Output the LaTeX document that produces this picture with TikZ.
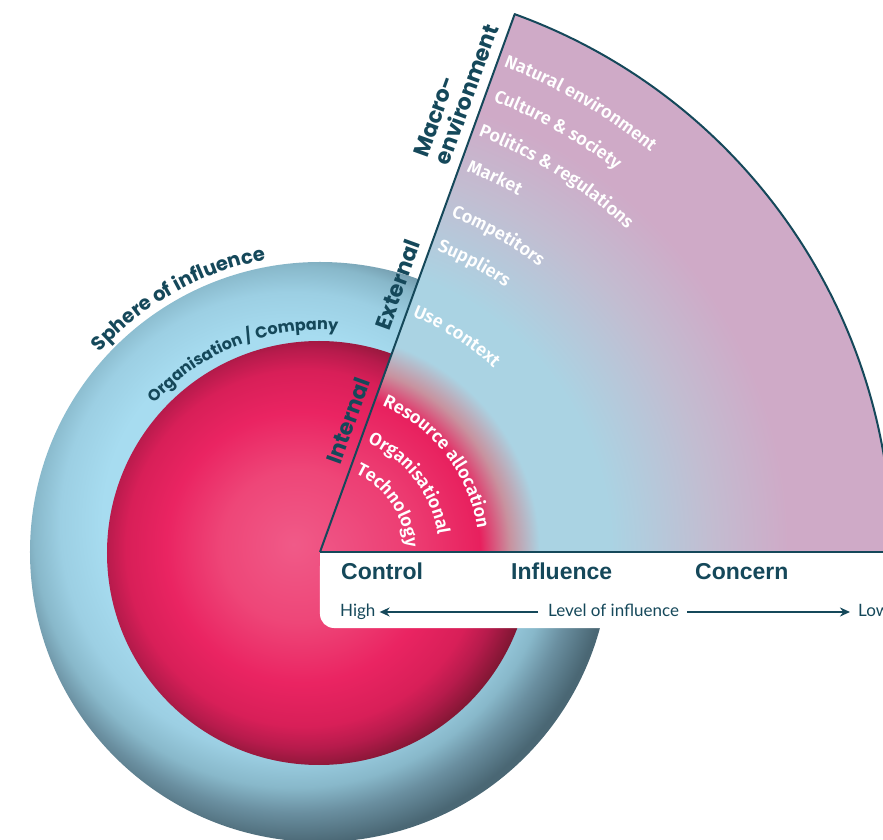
\documentclass[tikz,border=0pt]{standalone}
\usepackage{fontspec}
\setmainfont{Lato}
\newfontfamily\headfont{Poppins}
\newfontfamily\labfont{Fira Sans SemiBold}
\newfontfamily\bandfont{Liberation Sans}
\usetikzlibrary{decorations.text,arrows.meta,calc}

% palette
\definecolor{inkteal}{HTML}{15485A}
\definecolor{blA}{HTML}{A7DCF0}
\definecolor{blB}{HTML}{9CCFE3}
\definecolor{blC}{HTML}{88B8CA}
\definecolor{blD}{HTML}{6A8FA0}
\definecolor{blE}{HTML}{4A6774}
\definecolor{rdA}{HTML}{F05A88}
\definecolor{rdB}{HTML}{EE4678}
\definecolor{rdC}{HTML}{EA2462}
\definecolor{rdD}{HTML}{D81F58}
\definecolor{rdE}{HTML}{B71B4C}
\definecolor{rdF}{HTML}{7E1632}
\definecolor{wA}{HTML}{EF5686}
\definecolor{wB}{HTML}{EC3A70}
\definecolor{wC}{HTML}{E8205E}
\definecolor{wD}{HTML}{C8929F}
\definecolor{wE}{HTML}{AAD3E3}
\definecolor{wF}{HTML}{C2BDD1}
\definecolor{wG}{HTML}{CFAAC7}

% sphere and field shadings (25bp = edge of the shaded path's box)
\pgfdeclareradialshading{bluesphere}{\pgfpoint{-4bp}{4bp}}{%
  color(0bp)=(blA); color(16bp)=(blA); color(20bp)=(blB); color(22.5bp)=(blC);
  color(24.5bp)=(blD); color(27bp)=(blE); color(50bp)=(blE)}
\pgfdeclareradialshading{redsphere}{\pgfpoint{-3bp}{1bp}}{%
  color(0bp)=(rdA); color(9bp)=(rdB); color(16bp)=(rdC); color(21bp)=(rdD);
  color(23.5bp)=(rdE); color(26.5bp)=(rdF); color(50bp)=(rdF)}
\pgfdeclareradialshading{fieldshade}{\pgfpoint{0bp}{0bp}}{%
  color(0bp)=(wA); color(4.4bp)=(wB); color(7bp)=(wC); color(8.3bp)=(wD);
  color(9.6bp)=(wE); color(12.7bp)=(wE); color(17bp)=(wF); color(20.5bp)=(wG);
  color(50bp)=(wG)}

\newcommand\wlabfont{\labfont\fontsize{18}{20}\selectfont}
\newcommand\spherefont{\headfont\bfseries\fontsize{19.6}{21}\selectfont}
\newcommand\orgfont{\headfont\bfseries\fontsize{16}{18}\selectfont}

\begin{document}
\begin{tikzpicture}[x=1pt,y=1pt,
  edgeline/.style={draw=inkteal, line width=2pt, line join=round},
  sidelabel/.style={font=\headfont\bfseries\fontsize{22}{24}\selectfont, text=inkteal,
    rotate=70.1, anchor=base west, inner sep=0pt},
  bandhead/.style={font=\bandfont\bfseries\fontsize{23}{25}\selectfont, text=inkteal,
    anchor=base west, inner sep=0pt},
  scalelabel/.style={font=\fontsize{17}{19}\selectfont, text=inkteal, anchor=base west,
    inner sep=0pt, text height=8pt, text depth=0pt},
  scalearrow/.style={draw=inkteal, line width=1.7pt, -{Stealth[length=10pt,width=9pt]}},
  arclabel/.style={decorate, decoration={text along path, text align=left,
    text color=white, text={|\wlabfont|#1}}},
]
\useasboundingbox (-320,-288) rectangle (563,552);
\clip (-320,-288) rectangle (563,552);

% the two spheres
\shade[shading=bluesphere] (0,0) circle[radius=290];
\shade[shading=redsphere] (-1,-1) circle[radius=212];

% quarter field
\begin{scope}
  \clip (0,0) -- (70.1:572) arc[start angle=70.1, end angle=0, radius=572] -- cycle;
  \shade[shading=fieldshade] (-572,-572) rectangle (572,572);
\end{scope}
\draw[edgeline] (0,0) -- (70.1:572) arc[start angle=70.1, end angle=0, radius=572];

% scale band
\fill[white, rounded corners=14] (0,-76) rectangle (600,0);
\fill[white] (0,-30) rectangle (600,0);
\draw[inkteal, line width=2.6pt] (0,0) -- (600,0);

% labels round the spheres
\path[decorate, decoration={text along path, text align=left, text color=inkteal,
  text={|\spherefont|Sphere of influence}}]
  (137.8:297) arc[start angle=137.8, end angle=60, radius=297];
\path[decorate, decoration={text along path, text align=left, text color=inkteal,
  text={|\orgfont|Organisation / Company}}]
  (138.2:222) arc[start angle=138.2, end angle=60, radius=222];

% labels along the field edge
\node[sidelabel] (internal) at ($(70.1:88)+(160.1:10)$) {Internal};
\node[sidelabel] (external) at ($(70.1:231)+(160.1:10)$) {External};
\node[sidelabel] (envline) at ($(70.1:406)+(160.1:10)$) {environment};
\node[sidelabel] (macroline) at ($(70.1:406)+(160.1:33)$) {Macro-};

% factors in the field
\path[arclabel={Natural environment}] (69.3:519) arc[start angle=69.3, end angle=2, radius=519];
\path[arclabel={Culture {\&} society}] (69:483) arc[start angle=69, end angle=2, radius=483];
\path[arclabel={Politics {\&} regulations}] (69.2:445) arc[start angle=69.2, end angle=2, radius=445];
\path[arclabel={Market}] (69:408) arc[start angle=69, end angle=2, radius=408];
\path[arclabel={Competitors}] (68.7:360) arc[start angle=68.7, end angle=2, radius=360];
\path[arclabel={Suppliers}] (68.8:323) arc[start angle=68.8, end angle=2, radius=323];
\path[arclabel={Use context}] (68.6:253) arc[start angle=68.6, end angle=2, radius=253];
\path[arclabel={Resource allocation}] (67:159) arc[start angle=67, end angle=-10, radius=159];
\path[arclabel={Organisational}] (66.6:119) arc[start angle=66.6, end angle=-15, radius=119];
\path[arclabel={Technology}] (65.8:86) arc[start angle=65.8, end angle=-30, radius=86];

% band headings and scale
\node[bandhead] (control) at (21,-28) {Control};
\node[bandhead] (influence) at (191,-28) {Influence};
\node[bandhead] (concern) at (375,-28) {Concern};
\node[scalelabel] (high) at (20,-64) {High};
\node[scalelabel] (level) at (228,-64) {Level of influence};
\node[scalelabel] (low) at (538,-64) {Low};
\draw[scalearrow, shorten <=10pt, shorten >=4pt] (level.west) -- (high.east);
\draw[scalearrow, shorten <=8pt, shorten >=8pt] (level.east) -- (low.west);
\end{tikzpicture}
\end{document}
